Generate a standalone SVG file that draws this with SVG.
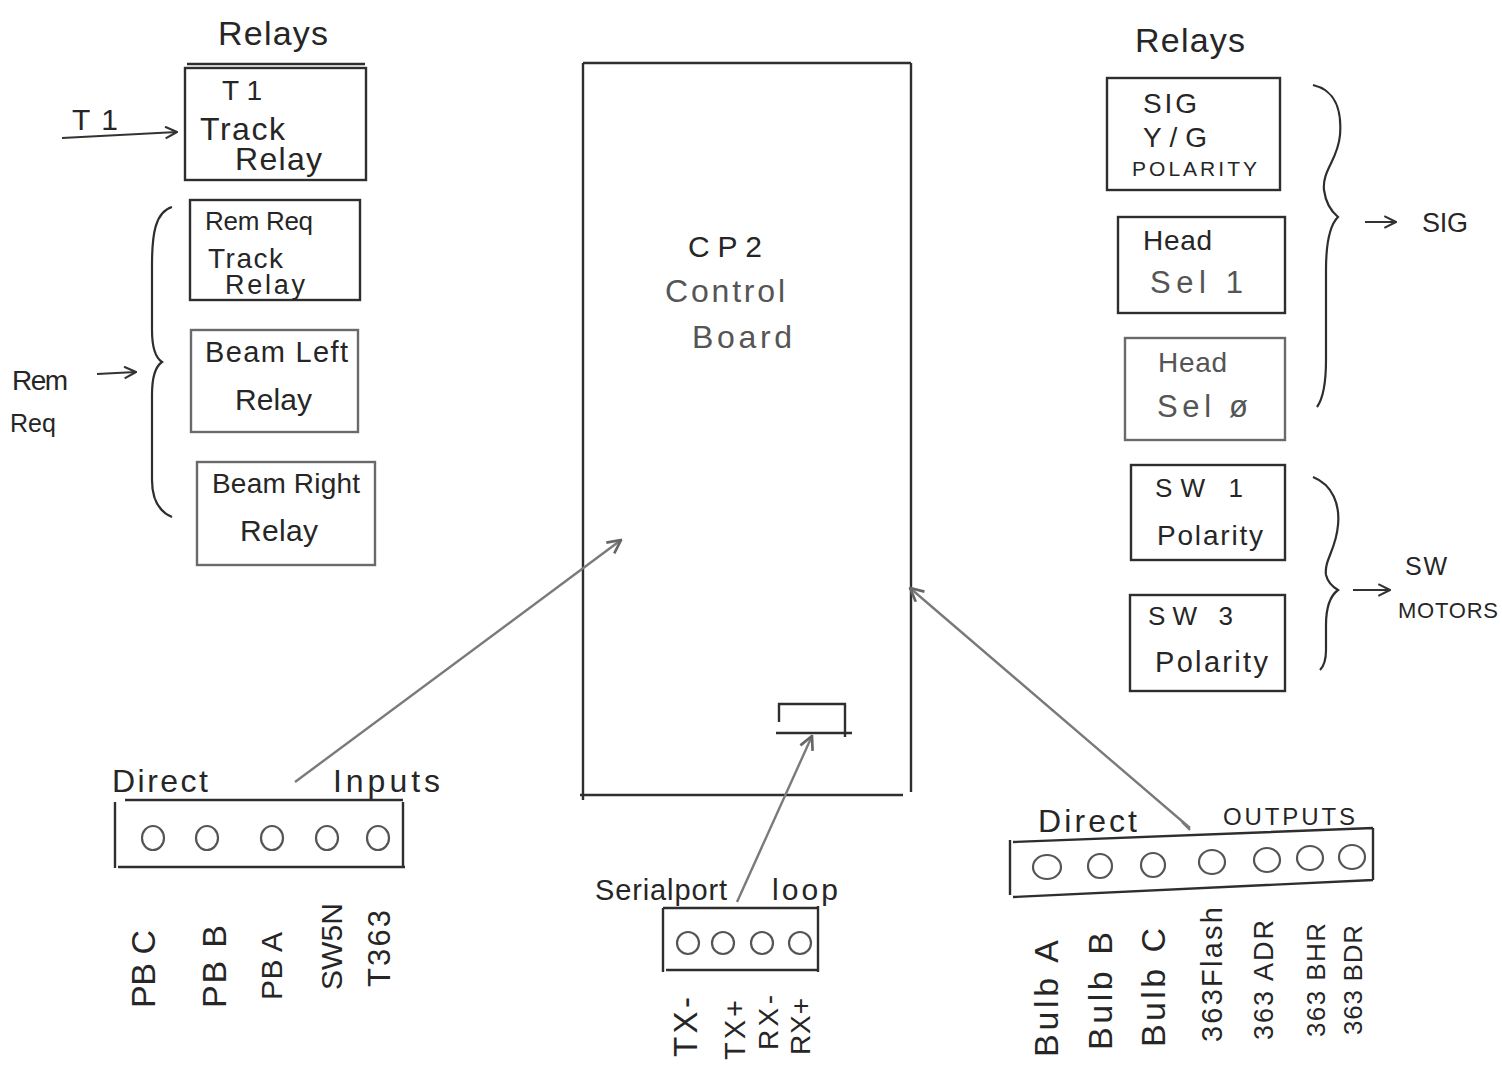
<svg xmlns="http://www.w3.org/2000/svg" width="1502" height="1078" viewBox="0 0 1502 1078">
<style>
text{font-family:"Liberation Sans",Arial,sans-serif;fill:#262626;}
.box{fill:none;stroke:#2e2e2e;stroke-width:2.4;}
.gbox{fill:none;stroke:#6a6a6a;stroke-width:2.4;}
.pin{fill:none;stroke:#555;stroke-width:2.2;}
.con{fill:none;stroke:#333;stroke-width:2;}
.gcon{fill:none;stroke:#7a7a7a;stroke-width:2.4;}
.brace{fill:none;stroke:#2e2e2e;stroke-width:2.2;}
.g{fill:#555;}
</style>
<defs>
<marker id="ah" viewBox="0 0 12 12" refX="11" refY="6" markerWidth="14" markerHeight="14" markerUnits="userSpaceOnUse" orient="auto">
<path d="M1,1 L11,6 L1,11" fill="none" stroke="#333" stroke-width="1.8"/>
</marker>
<marker id="gah" viewBox="0 0 12 12" refX="11" refY="6" markerWidth="16" markerHeight="16" markerUnits="userSpaceOnUse" orient="auto">
<path d="M1,1 L11,6 L1,11" fill="none" stroke="#666" stroke-width="2"/>
</marker>
</defs>
<rect x="0" y="0" width="1502" height="1078" fill="#ffffff"/>

<!-- Left relays -->
<text x="218" y="45" font-size="34" textLength="110">Relays</text>
<g id="t1-track-relay">
<line x1="187" y1="64" x2="365" y2="64" class="box"/>
<rect x="185" y="68" width="181" height="112" class="box"/>
<text x="222" y="100" font-size="28" textLength="40">T1</text>
<text x="200" y="140" font-size="32" textLength="85">Track</text>
<text x="235" y="170" font-size="32" textLength="87">Relay</text>
</g>
<g id="t1-input">
<text x="72" y="130" font-size="30" textLength="46">T1</text>
</g>
<g id="remreq-track-relay">
<rect x="190" y="200" width="170" height="100" class="box"/>
<text x="205" y="230" font-size="26" textLength="108">Rem Req</text>
<text x="208" y="268" font-size="28" textLength="75">Track</text>
<text x="225" y="294" font-size="27" textLength="80">Relay</text>
</g>
<g id="beam-left-relay">
<rect x="191" y="330" width="167" height="102" class="gbox"/>
<text x="205" y="362" font-size="29" textLength="143">Beam Left</text>
<text x="235" y="410" font-size="30" textLength="77">Relay</text>
</g>
<g id="beam-right-relay">
<rect x="197" y="462" width="178" height="103" class="gbox"/>
<text x="212" y="493" font-size="28" textLength="148">Beam Right</text>
<text x="240" y="541" font-size="30" textLength="78">Relay</text>
</g>
<g id="remreq-input">
<text x="12" y="390" font-size="28" textLength="56">Rem</text>
<text x="10" y="432" font-size="25">Req</text>
</g>

<!-- CP2 board -->
<g id="cp2-board">
<path d="M583,63 L911,63 M583,63 L583,800 M911,63 L911,792 M580,795 L903,795" class="box"/>
<text x="688" y="257" font-size="30" textLength="74">CP2</text>
<text x="665" y="302" font-size="32" textLength="120" class="g">Control</text>
<text x="692" y="348" font-size="32" textLength="100" class="g">Board</text>
</g>
<g id="serial-connector">
<path d="M779,722 L779,704 L845,704 L845,737 M776,733 L852,733" class="box"/>
</g>

<!-- Right relays -->
<text x="1135" y="52" font-size="34" textLength="110">Relays</text>
<g id="sig-yg-polarity">
<rect x="1107" y="78" width="173" height="112" class="box"/>
<text x="1143" y="113" font-size="28" textLength="54">SIG</text>
<text x="1143" y="147" font-size="28" textLength="64">Y/G</text>
<text x="1132" y="176" font-size="21" textLength="125">POLARITY</text>
</g>
<g id="head-sel-1">
<rect x="1118" y="217" width="167" height="96" class="box"/>
<text x="1143" y="250" font-size="28" textLength="69">Head</text>
<text x="1150" y="293" font-size="31" textLength="93" class="g">Sel 1</text>
</g>
<g id="head-sel-0">
<rect x="1125" y="338" width="160" height="102" class="gbox"/>
<text x="1158" y="372" font-size="28" textLength="69" class="g">Head</text>
<text x="1157" y="417" font-size="31" textLength="91" class="g">Sel ø</text>
</g>
<g id="sig-output">
<text x="1422" y="232" font-size="27" textLength="46">SIG</text>
</g>
<g id="sw1-polarity">
<rect x="1131" y="465" width="154" height="95" class="box"/>
<text x="1155" y="497" font-size="26" textLength="88">SW 1</text>
<text x="1157" y="545" font-size="28" textLength="106">Polarity</text>
</g>
<g id="sw3-polarity">
<rect x="1130" y="595" width="155" height="96" class="box"/>
<text x="1148" y="625" font-size="26" textLength="85">SW 3</text>
<text x="1155" y="672" font-size="29" textLength="113">Polarity</text>
</g>
<g id="sw-motors-output">
<text x="1405" y="575" font-size="25" textLength="42">SW</text>
<text x="1398" y="618" font-size="22" textLength="100">MOTORS</text>
</g>

<!-- Direct Inputs -->
<g id="direct-inputs">
<text x="112" y="792" font-size="32" textLength="96">Direct</text>
<text x="333" y="792" font-size="32" textLength="107">Inputs</text>
<path d="M125,800 L403,800 M115,802 L115,868 M403,802 L403,868 M118,867 L405,867" class="box"/>
<ellipse cx="153" cy="838" rx="11" ry="12" class="pin"/>
<ellipse cx="207" cy="838" rx="11" ry="12" class="pin"/>
<ellipse cx="272" cy="838" rx="11" ry="12" class="pin"/>
<ellipse cx="327" cy="838" rx="11" ry="12" class="pin"/>
<ellipse cx="378" cy="838" rx="11" ry="12" class="pin"/>
<text transform="translate(155,1008) rotate(-90)" font-size="34" textLength="78">PB C</text>
<text transform="translate(226,1008) rotate(-90)" font-size="34" textLength="83">PB B</text>
<text transform="translate(282,1000) rotate(-90)" font-size="30" textLength="68">PB A</text>
<text transform="translate(342,990) rotate(-90)" font-size="30" textLength="87">SW5N</text>
<text transform="translate(390,987) rotate(-90)" font-size="31" textLength="77">T363</text>
</g>

<!-- Serial port -->
<g id="serialport-loop">
<text x="595" y="900" font-size="29" textLength="132">Serialport</text>
<text x="772" y="900" font-size="30" textLength="66">loop</text>
<path d="M663,908 L818,908 M663,908 L663,972 M818,906 L818,972 M666,970 L818,970" class="box"/>
<ellipse cx="688" cy="943" rx="11" ry="11" class="pin"/>
<ellipse cx="723" cy="943" rx="11" ry="11" class="pin"/>
<ellipse cx="762" cy="943" rx="11" ry="11" class="pin"/>
<ellipse cx="800" cy="943" rx="11" ry="11" class="pin"/>
<text transform="translate(697,1057) rotate(-90)" font-size="33" textLength="60">TX-</text>
<text transform="translate(745,1060) rotate(-90)" font-size="29" textLength="60">TX+</text>
<text transform="translate(778,1050) rotate(-90)" font-size="28" textLength="55">RX-</text>
<text transform="translate(810,1055) rotate(-90)" font-size="28" textLength="57">RX+</text>
</g>

<!-- Direct Outputs -->
<g id="direct-outputs">
<text x="1038" y="832" font-size="32" textLength="99">Direct</text>
<text x="1223" y="825" font-size="24" textLength="132">OUTPUTS</text>
<path d="M1013,842 L1373,828 M1010,840 L1010,895 M1373,828 L1373,880 M1013,897 L1373,880" class="box"/>
<ellipse cx="1047" cy="867" rx="14" ry="12" class="pin"/>
<ellipse cx="1100" cy="866" rx="12" ry="12" class="pin"/>
<ellipse cx="1153" cy="865" rx="12" ry="12" class="pin"/>
<ellipse cx="1212" cy="862" rx="13" ry="12" class="pin"/>
<ellipse cx="1267" cy="860" rx="13" ry="12" class="pin"/>
<ellipse cx="1310" cy="858" rx="13" ry="12" class="pin"/>
<ellipse cx="1352" cy="857" rx="13" ry="12" class="pin"/>
<text transform="translate(1058,1057) rotate(-90)" font-size="34" textLength="117">Bulb A</text>
<text transform="translate(1112,1050) rotate(-90)" font-size="34" textLength="118">Bulb B</text>
<text transform="translate(1165,1047) rotate(-90)" font-size="34" textLength="119">Bulb C</text>
<text transform="translate(1222,1042) rotate(-90)" font-size="29" textLength="135">363Flash</text>
<text transform="translate(1273,1040) rotate(-90)" font-size="27" textLength="120">363 ADR</text>
<text transform="translate(1325,1037) rotate(-90)" font-size="26" textLength="114">363 BHR</text>
<text transform="translate(1362,1035) rotate(-90)" font-size="26" textLength="110">363 BDR</text>
</g>

<!-- Braces -->
<g id="braces">
<path d="M172,207 C155,212 152,235 152,265 L152,330 C152,350 156,358 162,362 C156,366 152,374 152,395 L152,480 C152,500 160,512 172,517" class="brace"/>
<path d="M1313,85 C1335,90 1342,110 1340,135 C1338,160 1322,170 1324,190 C1326,205 1332,212 1338,217 C1330,225 1326,240 1326,270 L1326,360 C1326,385 1322,400 1317,407" class="brace"/>
<path d="M1313,477 C1333,485 1340,505 1338,525 C1336,550 1324,560 1326,575 C1328,583 1333,587 1338,590 C1330,596 1326,606 1326,625 L1326,650 C1326,660 1323,667 1320,670" class="brace"/>
</g>

<!-- Connectors -->
<g id="connectors">
<line x1="62" y1="138" x2="177" y2="132" class="con" marker-end="url(#ah)"/>
<line x1="97" y1="374" x2="136" y2="372" class="con" marker-end="url(#ah)"/>
<line x1="1365" y1="222" x2="1396" y2="222" class="con" marker-end="url(#ah)"/>
<line x1="1353" y1="590" x2="1390" y2="590" class="con" marker-end="url(#ah)"/>
<line x1="295" y1="782" x2="621" y2="540" class="gcon" marker-end="url(#gah)"/>
<line x1="737" y1="902" x2="812" y2="736" class="gcon" marker-end="url(#gah)"/>
<path d="M1182,822 C1186,826 1188,828 1190,830 M1190,828 L910,588" class="gcon" marker-end="url(#gah)"/>
</g>
</svg>
